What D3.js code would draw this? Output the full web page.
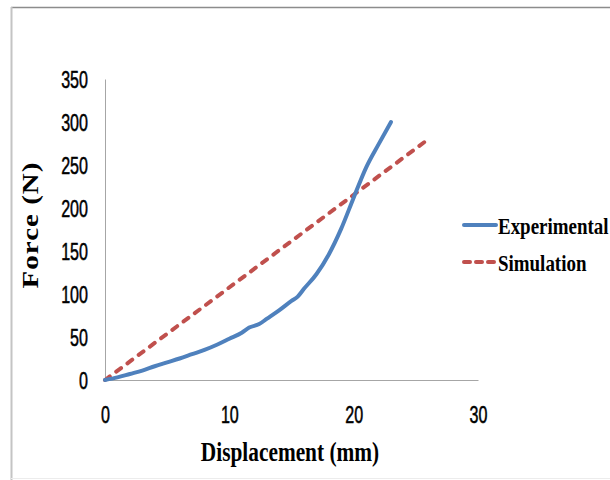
<!DOCTYPE html>
<html>
<head>
<meta charset="utf-8">
<script src="https://cdn.jsdelivr.net/npm/d3@7"></script>
<style>
  html, body { margin: 0; padding: 0; background: #fff; }
  svg { display: block; }
</style>
</head>
<body>
<svg id="chart" width="610" height="480"></svg>
<script>
// Force–displacement data (mm, N)
const expDisp  = [0, 1, 2, 3, 4, 5, 6, 7, 8, 9, 10, 11, 11.6, 12.4, 13, 14, 15, 15.5, 16, 17, 18, 19, 20, 21, 22, 23];
const expForce = [0, 3, 7, 11, 16, 20.5, 25, 30, 35, 41, 48, 55, 61, 65, 71, 81, 92, 97, 106, 123, 146, 176, 212, 247, 274, 300];
const simDisp  = [0, 26];
const simForce = [0, 280];

const xTicks = [0, 10, 20, 30];
const yTicks = [0, 50, 100, 150, 200, 250, 300, 350];

const seriesNames = ["Experimental", "Simulation"];
const seriesColors = ["#4f81bd", "#c0504d"];

const svg = d3.select("#chart");

// frame around the figure
svg.append("line").attr("x1", 11).attr("x2", 610).attr("y1", 7.5).attr("y2", 7.5)
  .attr("stroke", "#8c8c8c").attr("stroke-width", 1.5);
svg.append("line").attr("x1", 11.5).attr("x2", 11.5).attr("y1", 7).attr("y2", 480)
  .attr("stroke", "#c4c4c4").attr("stroke-width", 2);
svg.append("line").attr("x1", 11).attr("x2", 610).attr("y1", 478.5).attr("y2", 478.5)
  .attr("stroke", "#ececec").attr("stroke-width", 1);

const x = d3.scaleLinear().domain([0, 30]).range([105, 478]);
const y = d3.scaleLinear().domain([0, 350]).range([380, 79]);

// axes
const tickSX = 0.70;
const tickFont = "'Liberation Sans', Arial, sans-serif";
const yAxis = svg.append("g").attr("transform", `translate(${x(0)},0)`)
  .call(d3.axisLeft(y).tickValues(yTicks).tickSize(0).tickPadding(0).tickFormat(d3.format("d")));
yAxis.select(".domain").attr("stroke", "#a6a6a6").attr("stroke-width", 1);
yAxis.selectAll("text")
  .attr("font-family", tickFont)
  .attr("font-size", 23).attr("fill", "#000")
  .attr("stroke", "#000").attr("stroke-width", 0.5)
  .attr("x", -17 / tickSX).attr("dy", "0.36em")
  .attr("transform", `scale(${tickSX},1)`);

const xAxis = svg.append("g").attr("transform", `translate(0,${y(0)})`)
  .call(d3.axisBottom(x).tickValues(xTicks).tickSize(0).tickPadding(0).tickFormat(d3.format("d")));
xAxis.select(".domain").attr("stroke", "#a6a6a6").attr("stroke-width", 1);
xAxis.selectAll("text")
  .attr("font-family", tickFont)
  .attr("font-size", 23).attr("fill", "#000")
  .attr("stroke", "#000").attr("stroke-width", 0.5)
  .attr("y", 35).attr("dy", "0.36em")
  .attr("transform", `scale(${tickSX},1)`);

// series
const expData = expDisp.map((d, i) => [d, expForce[i]]);
const simData = simDisp.map((d, i) => [d, simForce[i]]);
const line = d3.line().x(d => x(d[0])).y(d => y(d[1])).curve(d3.curveMonotoneX);

svg.append("path").datum(simData)
  .attr("d", line).attr("fill", "none")
  .attr("stroke", seriesColors[1]).attr("stroke-width", 4)
  .attr("stroke-linecap", "round").attr("stroke-dasharray", "6,8");

svg.append("path").datum(expData)
  .attr("d", line).attr("fill", "none")
  .attr("stroke", seriesColors[0]).attr("stroke-width", 4)
  .attr("stroke-linejoin", "round").attr("stroke-linecap", "round");

// axis titles
const titleSX = 0.79;
const titleFont = "'Liberation Serif', 'Times New Roman', serif";
svg.append("text")
  .attr("transform", `translate(290,461) scale(${titleSX},1)`)
  .attr("text-anchor", "middle")
  .attr("font-family", titleFont)
  .attr("font-weight", "bold").attr("font-size", 27).attr("fill", "#000")
  .text("Displacement (mm)");

svg.append("text")
  .attr("transform", `translate(38,225) scale(${titleSX},1) rotate(-90)`)
  .attr("text-anchor", "middle")
  .attr("font-family", titleFont)
  .attr("font-weight", "bold").attr("font-size", 29).attr("fill", "#000")
  .attr("letter-spacing", 1)
  .text("Force (N)");

// legend
const legend = svg.append("g");
const legendY = [225, 262];
seriesNames.forEach((name, i) => {
  const ln = legend.append("line")
    .attr("x1", 464).attr("x2", 496).attr("y1", legendY[i]).attr("y2", legendY[i])
    .attr("stroke", seriesColors[i]).attr("stroke-width", 4).attr("stroke-linecap", "round");
  if (i === 1) ln.attr("stroke-dasharray", "6,6");
  legend.append("text")
    .attr("transform", `translate(498,${legendY[i] + 9}) scale(${titleSX},1)`)
    .attr("font-family", titleFont)
    .attr("font-weight", "bold").attr("font-size", 24).attr("fill", "#000")
    .text(name);
});
</script>
</body>
</html>
